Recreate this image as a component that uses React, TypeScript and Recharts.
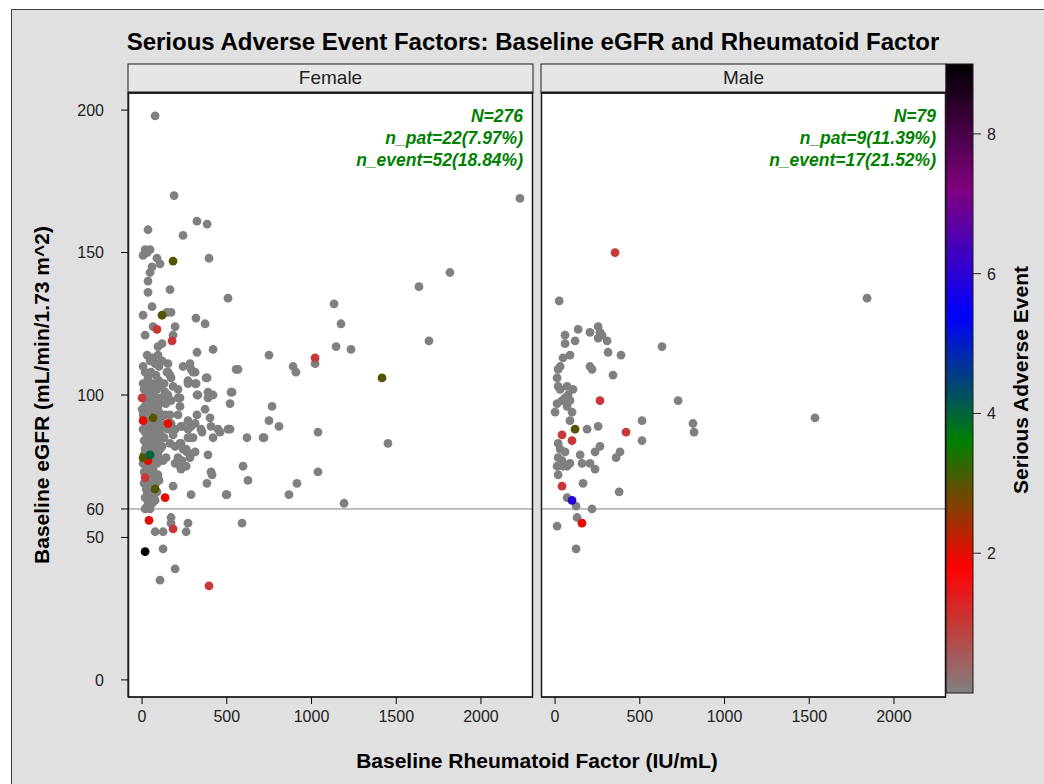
import React from 'react'
import { ScatterChart, Scatter, XAxis, YAxis, ReferenceLine } from 'recharts'

// axis ticks
const xTicks = [0, 500, 1000, 1500, 2000]
const yTicks = [0, 50, 60, 100, 150, 200]
const barTicks = [2, 4, 6, 8]

// [rheumatoid factor, eGFR] pairs, grouped by number of serious adverse events
const femaleNone: number[][] = [
  [77, 198], [189, 170], [35, 158], [324, 161], [384, 160], [242, 156], [18, 151], [47, 151], [6, 149], [30, 150],
  [88, 148], [106, 146], [395, 148], [59, 145], [47, 143], [35, 140], [165, 137], [35, 136], [507, 134], [59, 131],
  [6, 128], [147, 129], [171, 129], [318, 127], [372, 125], [65, 124], [195, 124], [18, 121], [183, 121], [118, 118],
  [94, 117], [324, 115], [419, 116], [30, 114], [47, 112], [65, 113], [77, 111], [94, 114], [153, 111], [242, 110],
  [283, 111], [289, 109], [301, 108], [18, 108], [35, 106], [30, 104], [6, 104], [24, 104], [65, 104], [106, 103],
  [112, 104], [147, 108], [165, 107], [153, 108], [171, 106], [183, 103], [212, 102], [271, 105], [313, 104], [313, 108],
  [319, 104], [271, 104], [378, 106], [384, 106], [389, 101], [419, 100], [330, 100], [324, 100], [389, 99], [525, 101],
  [519, 97], [531, 101], [555, 109], [566, 109], [18, 99], [30, 97], [47, 98], [18, 96], [106, 99], [124, 98],
  [140, 97], [212, 99], [153, 100], [171, 98], [224, 99], [224, 96], [94, 96], [372, 95], [401, 92], [324, 93],
  [165, 93], [212, 93], [171, 90], [153, 88], [106, 88], [195, 88], [230, 89], [271, 91], [313, 90], [289, 89],
  [236, 89], [271, 88], [283, 85], [354, 87], [348, 88], [407, 89], [448, 88], [507, 88], [419, 85], [460, 87],
  [519, 88], [619, 85], [714, 85], [301, 85], [271, 85], [230, 83], [183, 86], [165, 83], [195, 82], [224, 83],
  [242, 81], [265, 80], [260, 81], [283, 78], [313, 80], [212, 78], [142, 78], [236, 77], [195, 76], [260, 75],
  [224, 75], [389, 79], [230, 74], [407, 73], [596, 75], [625, 70], [413, 72], [383, 69], [501, 65], [289, 65],
  [496, 65], [183, 68], [0, 95], [12, 92], [24, 94], [41, 96], [59, 95], [71, 93], [88, 91], [100, 94],
  [112, 92], [6, 88], [24, 89], [35, 87], [53, 88], [77, 89], [94, 87], [112, 86], [12, 84], [30, 85],
  [47, 84], [65, 83], [82, 85], [100, 83], [118, 82], [18, 81], [35, 80], [59, 81], [77, 80], [94, 79],
  [6, 76], [24, 75], [47, 76], [65, 74], [88, 76], [106, 77], [12, 73], [30, 72], [53, 71], [71, 72],
  [94, 72], [41, 69], [59, 68], [82, 69], [100, 70], [24, 67], [47, 66], [71, 65], [88, 66], [18, 64],
  [35, 63], [59, 62], [77, 63], [30, 61], [18, 60], [47, 60], [12, 99], [35, 101], [59, 100], [77, 98],
  [88, 102], [6, 110], [53, 108], [82, 107], [100, 110], [118, 112], [130, 104], [136, 93], [130, 85], [124, 77],
  [136, 101], [171, 57], [171, 55], [271, 55], [260, 52], [590, 55], [77, 52], [124, 52], [124, 46], [195, 39],
  [106, 35], [2230, 169], [1817, 143], [1634, 138], [1133, 132], [1174, 125], [749, 114], [1145, 117], [1233, 116], [1693, 119],
  [891, 110], [908, 108], [1021, 111], [767, 96], [749, 91], [808, 89], [720, 85], [1038, 87], [1451, 83], [1038, 73],
  [914, 69], [867, 65], [1192, 62], [12, 102], [41, 103], [71, 101], [100, 105], [24, 98], [53, 97], [88, 95],
  [6, 93], [35, 91], [65, 89], [118, 90], [18, 87], [47, 86], [88, 83], [24, 82], [71, 81], [106, 81],
  [12, 79], [41, 78], [82, 78], [35, 74], [59, 73], [12, 69], [65, 70], [30, 65], [53, 64], [41, 62],
]
const femaleOne: number[][] = [[88, 123], [177, 119], [1021, 113], [0, 99], [18, 71], [183, 53], [395, 33]]
const femaleTwo: number[][] = [[153, 90], [35, 77], [6, 91], [136, 64], [41, 56]]
const femaleThree: number[][] = [[183, 147], [118, 128], [65, 92], [6, 78], [77, 67], [1416, 106]]
const femaleFour: number[][] = [[47, 79]]
const femaleNine: number[][] = [[18, 45]]

const maleNone: number[][] = [
  [136, 123], [206, 122], [254, 124], [265, 122], [254, 120], [277, 121], [307, 119], [313, 115], [389, 114], [59, 121],
  [118, 119], [59, 118], [47, 113], [88, 114], [206, 110], [218, 109], [342, 107], [18, 109], [12, 106], [18, 103],
  [30, 102], [71, 103], [106, 102], [59, 99], [77, 100], [41, 98], [88, 98], [12, 97], [71, 96], [0, 94],
  [100, 94], [88, 91], [189, 88], [254, 89], [513, 91], [513, 84], [18, 83], [30, 81], [18, 78], [59, 80],
  [41, 77], [88, 76], [71, 75], [12, 75], [18, 72], [47, 75], [148, 79], [236, 80], [265, 82], [159, 76],
  [206, 76], [236, 74], [383, 80], [360, 78], [165, 69], [378, 66], [71, 64], [124, 61], [218, 60], [130, 57],
  [12, 54], [24, 133], [631, 117], [726, 98], [814, 90], [820, 87], [1841, 134], [1534, 92], [124, 46], [30, 110],
]
const maleOne: number[][] = [[354, 150], [265, 98], [41, 86], [100, 84], [419, 87], [41, 68]]
const maleTwo: number[][] = [[159, 55]]
const maleThree: number[][] = [[118, 88]]
const maleSix: number[][] = [[100, 63]]

const femaleStats = ['N=276', 'n_pat=22(7.97%)', 'n_event=52(18.84%)']
const maleStats = ['N=79', 'n_pat=9(11.39%)', 'n_event=17(21.52%)']

// colour model: gray -> red -> green -> blue -> purple -> black over 0..9
const barMax = 9
const stopColors = [
  [128, 128, 128],
  [255, 0, 0],
  [0, 128, 0],
  [0, 0, 255],
  [128, 0, 128],
  [0, 0, 0],
]

const colorFor = (v: number) => {
  const pos = (v / barMax) * (stopColors.length - 1)
  const i = Math.min(Math.floor(pos), stopColors.length - 2)
  const t = pos - i
  const a = stopColors[i]
  const b = stopColors[i + 1]
  const c = a.map((ch, k) => Math.round(ch + (b[k] - ch) * t))
  return `rgb(${c[0]},${c[1]},${c[2]})`
}

const W = 1044
const H = 784
const PLOT_TOP = 93
const PLOT_BOTTOM = 697
const HEADER_TOP = 64
const F_LEFT = 128
const F_RIGHT = 533
const M_LEFT = 541
const M_RIGHT = 946
const BAR_LEFT = 946
const BAR_RIGHT = 973
const BAR_BOTTOM = 693
const FONT = '"Liberation Sans", Arial, sans-serif'

const toPoints = (arr: number[][]) => arr.map(([x, y]) => ({ x, y }))

const tickStyle = { fill: '#222', fontSize: 16, fontFamily: FONT }

function Panel({ groups, left, right, showY }: { groups: [number[][], number][]; left: number; right: number; showY: boolean }) {
  const yWidth = 60
  return (
    <div style={{ position: 'absolute', left: 0, top: 0 }}>
      <ScatterChart
        width={W}
        height={H}
        margin={{ top: PLOT_TOP, right: W - right, bottom: H - PLOT_BOTTOM - 30, left: showY ? left - yWidth : left }}
      >
        <XAxis
          type="number"
          dataKey="x"
          domain={[-83, 2307]}
          ticks={xTicks}
          height={30}
          tickSize={7}
          tickMargin={7}
          tick={tickStyle}
          axisLine={{ stroke: '#000' }}
          tickLine={{ stroke: '#000' }}
        />
        <YAxis
          type="number"
          dataKey="y"
          domain={[-6, 206]}
          ticks={yTicks}
          width={yWidth}
          hide={!showY}
          tickSize={7}
          tickMargin={17}
          tick={tickStyle}
          axisLine={{ stroke: '#000' }}
          tickLine={{ stroke: '#000' }}
        />
        <ReferenceLine y={60} stroke="#808080" strokeWidth={1} />
        {groups.map(([pts, sae], i) => (
          <Scatter
            key={i}
            data={toPoints(pts)}
            isAnimationActive={false}
            shape={(p: any) => <circle cx={p.cx} cy={p.cy} r={4.4} fill={colorFor(sae)} />}
          />
        ))}
      </ScatterChart>
    </div>
  )
}

export default function App() {
  const barY = (v: number) => BAR_BOTTOM - (v / barMax) * (BAR_BOTTOM - HEADER_TOP)
  const gradStops = stopColors.map((c, i) => (
    <stop key={i} offset={`${(i / (stopColors.length - 1)) * 100}%`} stopColor={`rgb(${c[0]},${c[1]},${c[2]})`} />
  ))

  const header = (l: number, r: number, label: string) => (
    <g>
      <rect x={l} y={HEADER_TOP} width={r - l} height={PLOT_TOP - HEADER_TOP} fill="#e6e6e6" stroke="#1a1a1a" strokeWidth={1} />
      <line x1={l} x2={r} y1={PLOT_TOP - 0.5} y2={PLOT_TOP - 0.5} stroke="#1a1a1a" strokeWidth={2} />
      <text x={(l + r) / 2} y={84} textAnchor="middle" fontSize={19} fill="#222" fontFamily={FONT}>
        {label}
      </text>
    </g>
  )

  const stats = (r: number, lines: string[]) =>
    lines.map((s, i) => (
      <text key={s} x={r - 10} y={122 + i * 22} textAnchor="end" fontSize={17.5} fontWeight="bold" fontStyle="italic" fill="#008000" fontFamily={FONT}>
        {s}
      </text>
    ))

  return (
    <div style={{ position: 'absolute', left: 0, top: 0, width: W, height: H, background: '#fff', overflow: 'hidden' }}>
      <svg width={W} height={H} style={{ position: 'absolute', left: 0, top: 0 }}>
        <defs>
          <linearGradient id="saeBar" x1="0" y1="1" x2="0" y2="0">
            {gradStops}
          </linearGradient>
        </defs>
        <rect x={11.5} y={9.5} width={W} height={H} fill="#e0e0e0" stroke="#404040" strokeWidth={1} />
        <text x={533} y={50} textAnchor="middle" fontSize={24} fontWeight="bold" fill="#000" fontFamily={FONT}>
          Serious Adverse Event Factors: Baseline eGFR and Rheumatoid Factor
        </text>
        <rect x={F_LEFT} y={PLOT_TOP} width={F_RIGHT - F_LEFT} height={PLOT_BOTTOM - PLOT_TOP} fill="#fff" />
        <rect x={M_LEFT} y={PLOT_TOP} width={M_RIGHT - M_LEFT} height={PLOT_BOTTOM - PLOT_TOP} fill="#fff" />
        {header(F_LEFT, F_RIGHT, 'Female')}
        {header(M_LEFT, M_RIGHT, 'Male')}
        <text x={537} y={768} textAnchor="middle" fontSize={21} fontWeight="bold" fill="#000" fontFamily={FONT}>
          Baseline Rheumatoid Factor (IU/mL)
        </text>
        <text transform="translate(49,395) rotate(-90)" textAnchor="middle" fontSize={21} fontWeight="bold" fill="#000" fontFamily={FONT}>
          Baseline eGFR (mL/min/1.73 m^2)
        </text>
        <rect x={BAR_LEFT} y={HEADER_TOP} width={BAR_RIGHT - BAR_LEFT} height={BAR_BOTTOM - HEADER_TOP} fill="url(#saeBar)" stroke="#1a1a1a" strokeWidth={1} />
        {barTicks.map((v) => (
          <g key={v}>
            <line x1={BAR_RIGHT} x2={BAR_RIGHT + 8} y1={barY(v)} y2={barY(v)} stroke="#222" />
            <text x={BAR_RIGHT + 14} y={barY(v) + 6} fontSize={16} fill="#222" fontFamily={FONT}>
              {v}
            </text>
          </g>
        ))}
        <text transform="translate(1028,380) rotate(-90)" textAnchor="middle" fontSize={21} fontWeight="bold" fill="#000" fontFamily={FONT}>
          Serious Adverse Event
        </text>
      </svg>
      <Panel
        left={F_LEFT}
        right={F_RIGHT}
        showY
        groups={[[femaleNone, 0], [femaleOne, 1], [femaleTwo, 2], [femaleThree, 3], [femaleFour, 4], [femaleNine, 9]]}
      />
      <Panel
        left={M_LEFT}
        right={M_RIGHT}
        showY={false}
        groups={[[maleNone, 0], [maleOne, 1], [maleTwo, 2], [maleThree, 3], [maleSix, 6]]}
      />
      <svg width={W} height={H} style={{ position: 'absolute', left: 0, top: 0, pointerEvents: 'none' }}>
        <rect x={F_LEFT + 0.5} y={PLOT_TOP} width={F_RIGHT - F_LEFT - 1} height={PLOT_BOTTOM - PLOT_TOP} fill="none" stroke="#1a1a1a" strokeWidth={1.5} />
        <rect x={M_LEFT + 0.5} y={PLOT_TOP} width={M_RIGHT - M_LEFT - 1} height={PLOT_BOTTOM - PLOT_TOP} fill="none" stroke="#1a1a1a" strokeWidth={1.5} />
        {stats(F_RIGHT, femaleStats)}
        {stats(M_RIGHT, maleStats)}
      </svg>
    </div>
  )
}
